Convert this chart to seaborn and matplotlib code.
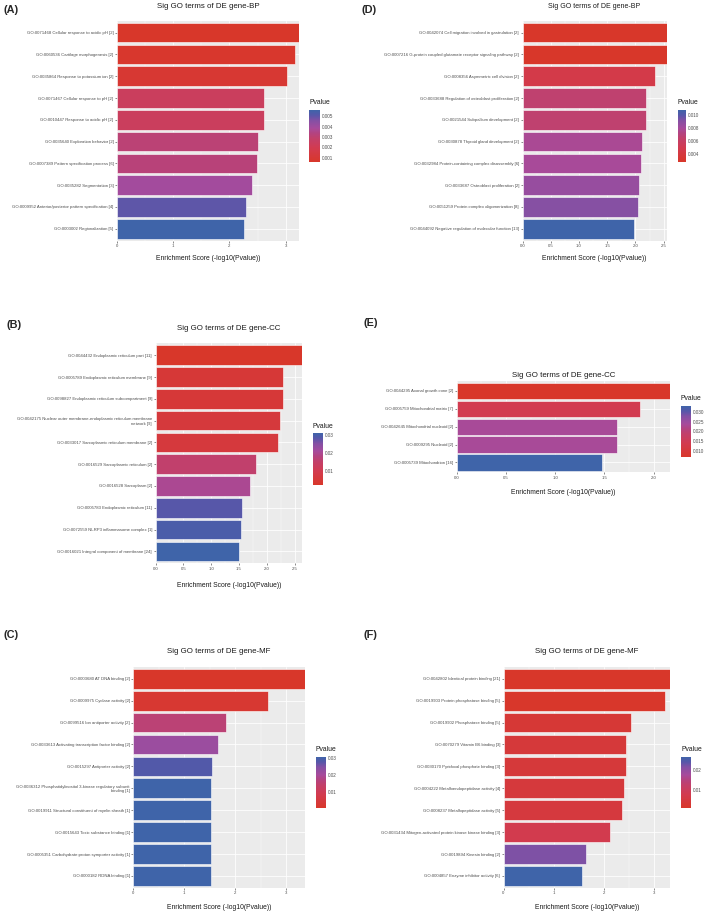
import numpy as np
import pandas as pd
import matplotlib
matplotlib.use("Agg")
import matplotlib.pyplot as plt
from matplotlib.colors import LinearSegmentedColormap, Normalize
from matplotlib.cm import ScalarMappable
from matplotlib.ticker import AutoMinorLocator
import seaborn as sns

W, H = 709, 913

# --- data ---
bp1_terms = [
    "GO:0071468 Cellular response to acidic pH [2]",
    "GO:0060536 Cartilage morphogenesis [2]",
    "GO:0035864 Response to potassium ion [2]",
    "GO:0071467 Cellular response to pH [2]",
    "GO:0010447 Response to acidic pH [2]",
    "GO:0035640 Exploration behavior [2]",
    "GO:0007389 Pattern specification process [6]",
    "GO:0035282 Segmentation [3]",
    "GO:0009952 Anterior/posterior pattern specification [4]",
    "GO:0003002 Regionalization [5]",
]
bp1_pvalue = [0.00058, 0.00069, 0.00093, 0.0024, 0.0024, 0.0031, 0.0032, 0.0039, 0.0050, 0.0056]

cc1_terms = [
    "GO:0044432 Endoplasmic reticulum part [11]",
    "GO:0005789 Endoplasmic reticulum membrane [9]",
    "GO:0098827 Endoplasmic reticulum subcompartment [9]",
    "GO:0042175 Nuclear outer membrane-endoplasmic reticulum membrane\nnetwork [9]",
    "GO:0033017 Sarcoplasmic reticulum membrane [2]",
    "GO:0016529 Sarcoplasmic reticulum [2]",
    "GO:0016528 Sarcoplasm [2]",
    "GO:0005783 Endoplasmic reticulum [11]",
    "GO:0072559 NLRP3 inflammasome complex [1]",
    "GO:0016021 Integral component of membrane [24]",
]
cc1_pvalue = [0.0023, 0.0051, 0.0052, 0.0059, 0.0063, 0.0155, 0.020, 0.028, 0.0295, 0.031]

mf1_terms = [
    "GO:0003680 AT DNA binding [2]",
    "GO:0009975 Cyclase activity [2]",
    "GO:0099516 Ion antiporter activity [2]",
    "GO:0033613 Activating transcription factor binding [2]",
    "GO:0015297 Antiporter activity [2]",
    "GO:0036312 Phosphatidylinositol 3-kinase regulatory subunit\nbinding [1]",
    "GO:0019911 Structural constituent of myelin sheath [1]",
    "GO:0015643 Toxic substance binding [1]",
    "GO:0005351 Carbohydrate:proton symporter activity [1]",
    "GO:0000182 RDNA binding [1]",
]
mf1_pvalue = [0.00043, 0.0023, 0.0155, 0.0214, 0.028, 0.0305, 0.0305, 0.0305, 0.0305, 0.0305]

bp2_terms = [
    "GO:0042074 Cell migration involved in gastrulation [2]",
    "GO:0007216 G-protein coupled glutamate receptor signaling pathway [2]",
    "GO:0008356 Asymmetric cell division [2]",
    "GO:0033688 Regulation of osteoblast proliferation [2]",
    "GO:0021544 Subpallium development [2]",
    "GO:0030878 Thyroid gland development [2]",
    "GO:0032984 Protein-containing complex disassembly [6]",
    "GO:0033687 Osteoblast proliferation [2]",
    "GO:0051259 Protein complex oligomerization [8]",
    "GO:0044092 Negative regulation of molecular function [13]",
]
bp2_pvalue = [0.0028, 0.0028, 0.0046, 0.0066, 0.0066, 0.0078, 0.0079, 0.0085, 0.0091, 0.0108]

cc2_terms = [
    "GO:0044295 Axonal growth cone [2]",
    "GO:0005759 Mitochondrial matrix [7]",
    "GO:0042645 Mitochondrial nucleoid [2]",
    "GO:0009295 Nucleoid [2]",
    "GO:0005739 Mitochondrion [16]",
]
cc2_pvalue = [0.0068, 0.0138, 0.0234, 0.0234, 0.033]

mf2_terms = [
    "GO:0042802 Identical protein binding [21]",
    "GO:0019903 Protein phosphatase binding [5]",
    "GO:0019902 Phosphatase binding [5]",
    "GO:0070279 Vitamin B6 binding [3]",
    "GO:0030170 Pyridoxal phosphate binding [3]",
    "GO:0004222 Metalloendopeptidase activity [4]",
    "GO:0008237 Metallopeptidase activity [5]",
    "GO:0031434 Mitogen-activated protein kinase kinase binding [3]",
    "GO:0019894 Kinesin binding [2]",
    "GO:0004857 Enzyme inhibitor activity [6]",
]
mf2_pvalue = [0.00047, 0.0006, 0.0028, 0.0035, 0.0035, 0.0039, 0.0043, 0.0074, 0.022, 0.027]

# red (low p) -> magenta/purple -> blue (high p), sampled from the figure
cmap = LinearSegmentedColormap.from_list("pval", [
    (0.00, "#D8372A"), (0.27, "#D23B50"), (0.45, "#C2406A"), (0.55, "#B4437F"),
    (0.65, "#A64B9C"), (0.80, "#8350A4"), (0.90, "#5657A9"), (1.00, "#3F64A9"),
])

sns.set_style("darkgrid", {"axes.facecolor": "#EBEBEB", "grid.color": "white"})
plt.rcParams["font.family"] = ["Liberation Sans", "DejaVu Sans"]

fig = plt.figure(figsize=(W / 100, H / 100), dpi=100)


def px_axes(left, top, right, bottom):
    return fig.add_axes([left / W, 1 - bottom / H, (right - left) / W, (bottom - top) / H])


def panel(terms, pvals, title, letter, box, letter_xy, title_y, xlab_y, cbox,
          cticks, clabels, xticks, title_size=5.7):
    df = pd.DataFrame({"term": terms, "pvalue": pvals})
    df["score"] = -np.log10(df["pvalue"])
    norm = Normalize(df["pvalue"].min(), df["pvalue"].max())
    colors = [cmap(norm(p)) for p in df["pvalue"]]

    ax = px_axes(*box)
    sns.barplot(data=df, x="score", y="term", hue="term", palette=colors, legend=False,
                saturation=1, width=0.9, edgecolor="white", linewidth=0.4, ax=ax)
    ax.set_xlim(0, df["score"].max())
    ax.set_ylim(len(df) - 0.45, -0.55)
    ax.set_xticks(xticks)
    ax.xaxis.set_minor_locator(AutoMinorLocator(2))
    ax.grid(True, which="major", color="white", lw=0.55)
    ax.grid(True, which="minor", axis="x", color="white", lw=0.25)
    ax.set_axisbelow(True)
    for s in ax.spines.values():
        s.set_visible(False)
    ax.tick_params(axis="both", which="major", bottom=True, left=True, length=1.5, width=0.4,
                   color="#333333", labelsize=3.1, labelcolor="#4D4D4D", pad=1)
    ax.tick_params(axis="x", which="minor", length=0)
    ax.set_xlabel("")
    ax.set_ylabel("")

    cx = (box[0] + box[2]) / 2
    fig.text(cx / W, 1 - title_y / H, title, ha="center", va="center", fontsize=title_size, color="#1A1A1A")
    fig.text(cx / W, 1 - xlab_y / H, "Enrichment Score (-log10(Pvalue))", ha="center", va="center",
             fontsize=4.9, color="#1A1A1A")
    fig.text(letter_xy[0] / W, 1 - letter_xy[1] / H, letter, ha="left", va="center",
             fontsize=7.8, fontweight="bold")

    # colour legend
    cax = px_axes(*cbox)
    cb = fig.colorbar(ScalarMappable(norm=norm, cmap=cmap), cax=cax)
    cb.outline.set_visible(False)
    cb.set_ticks(cticks)
    cb.set_ticklabels(clabels)
    cax.tick_params(labelsize=3.3, length=1.8, width=0.4, color="white", direction="in",
                    left=True, right=True, pad=1.5, labelcolor="#4D4D4D")
    cax.grid(False)
    fig.text(cbox[0] / W, 1 - (cbox[1] - 7) / H, "Pvalue", ha="left", va="center", fontsize=4.9,
             color="#1A1A1A")


panel(bp1_terms, bp1_pvalue, "Sig GO terms of DE gene-BP", "(A)",
      (117, 20.7, 299, 240.7), (4, 10), 6, 258, (309, 110, 320, 162),
      [0.001, 0.002, 0.003, 0.004, 0.005], ["0.001", "0.002", "0.003", "0.004", "0.005"], [0, 1, 2, 3])

panel(cc1_terms, cc1_pvalue, "Sig GO terms of DE gene-CC", "(B)",
      (155.5, 343.3, 302.3, 563.3), (6, 325), 328, 585, (312.7, 433, 323, 485),
      [0.01, 0.02, 0.03], ["0.01", "0.02", "0.03"], [0, 0.5, 1, 1.5, 2, 2.5])

panel(mf1_terms, mf1_pvalue, "Sig GO terms of DE gene-MF", "(C)",
      (133.3, 666.7, 305, 888), (4, 635), 651.7, 907, (315.7, 756.7, 326, 808),
      [0.01, 0.02, 0.03], ["0.01", "0.02", "0.03"], [0, 1, 2, 3])

panel(bp2_terms, bp2_pvalue, "Sig GO terms of DE gene-BP", "(D)",
      (522.5, 20.7, 666.7, 240.7), (362, 10), 6, 258, (677.7, 110, 685.5, 162),
      [0.004, 0.006, 0.008, 0.010], ["0.004", "0.006", "0.008", "0.010"], [0, 0.5, 1, 1.5, 2, 2.5],
      title_size=5.0)

panel(cc2_terms, cc2_pvalue, "Sig GO terms of DE gene-CC", "(E)",
      (456.7, 381, 670, 472.3), (363, 323), 375, 492, (680.7, 406, 691, 457),
      [0.010, 0.015, 0.020, 0.025, 0.030], ["0.010", "0.015", "0.020", "0.025", "0.030"],
      [0, 0.5, 1, 1.5, 2])

panel(mf2_terms, mf2_pvalue, "Sig GO terms of DE gene-MF", "(F)",
      (503.5, 666.7, 670, 888), (363, 635), 651.7, 907, (681, 756.7, 691, 808),
      [0.01, 0.02], ["0.01", "0.02"], [0, 1, 2, 3])

fig.savefig("out.png", dpi=100)
